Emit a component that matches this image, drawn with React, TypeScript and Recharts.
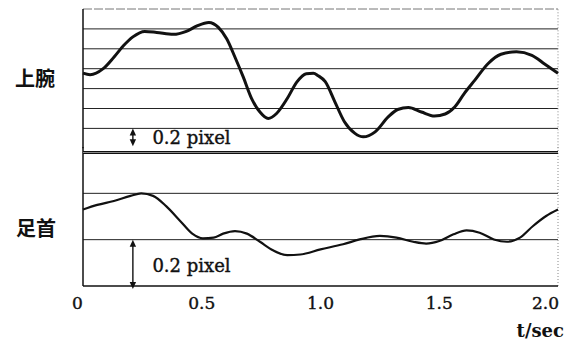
import React from "react";
import { LineChart, Line, XAxis, YAxis, ReferenceLine } from "recharts";

const armTime = [0, 0.03, 0.085, 0.13, 0.17, 0.21, 0.26, 0.31, 0.38, 0.435, 0.48, 0.53, 0.57, 0.605, 0.64, 0.675, 0.71, 0.745, 0.78, 0.815, 0.86, 0.9, 0.94, 0.97, 0.99, 1.02, 1.06, 1.1, 1.145, 1.18, 1.23, 1.285, 1.325, 1.37, 1.425, 1.48, 1.525, 1.565, 1.605, 1.65, 1.705, 1.76, 1.825, 1.89, 1.945, 2.0];
const armValue = [0.755, 0.74, 0.8, 0.915, 1.03, 1.12, 1.175, 1.165, 1.145, 1.175, 1.23, 1.265, 1.215, 1.1, 0.915, 0.715, 0.5, 0.365, 0.3, 0.35, 0.5, 0.665, 0.75, 0.755, 0.73, 0.67, 0.47, 0.27, 0.15, 0.115, 0.165, 0.315, 0.39, 0.41, 0.365, 0.325, 0.345, 0.415, 0.55, 0.685, 0.85, 0.945, 0.97, 0.935, 0.845, 0.755];

const ankleTime = [0, 0.06, 0.13, 0.2, 0.245, 0.295, 0.35, 0.41, 0.46, 0.505, 0.55, 0.59, 0.64, 0.69, 0.745, 0.8, 0.86, 0.915, 1.0, 1.095, 1.165, 1.25, 1.32, 1.39, 1.445, 1.5, 1.56, 1.615, 1.67, 1.73, 1.785, 1.84, 1.895, 1.95, 2.0];
const ankleValue = [0.33, 0.35, 0.367, 0.389, 0.4, 0.389, 0.345, 0.28, 0.226, 0.206, 0.209, 0.226, 0.237, 0.226, 0.191, 0.154, 0.133, 0.136, 0.158, 0.18, 0.201, 0.216, 0.209, 0.191, 0.183, 0.194, 0.223, 0.24, 0.23, 0.201, 0.191, 0.209, 0.259, 0.302, 0.33];

const timeTicks = [0, 0.5, 1, 1.5, 2];
const armGrid = [0.2, 0.4, 0.6, 0.8, 1.0, 1.2];
const ankleGrid = [0.2, 0.4];
const rowLabels = ["上腕", "足首"];
const scaleLabel = "0.2 pixel";
const axisTitle = "t/sec";
const scaleStep = 0.2;
const scaleTime = 0.21;

const armData = armTime.map((t, i) => ({ t, v: armValue[i] }));
const ankleData = ankleTime.map((t, i) => ({ t, v: ankleValue[i] }));

const serif = "'DejaVu Serif', 'Liberation Serif', serif";

const TimeTick = (props: any) => {
  const { x, y, payload } = props;
  const v = payload.value;
  const label = v === 0 ? "0" : v.toFixed(1);
  let anchor: any = "middle";
  let dx = 0;
  if (v === 0) dx = -5.5;
  if (v === 2) {
    anchor = "end";
    dx = 1;
  }
  return (
    <text x={x + dx} y={y + 15} textAnchor={anchor} fontFamily={serif} fontSize={17} fill="#111" stroke="#111" strokeWidth={0.4}>
      {label}
    </text>
  );
};

const makeArrow = (textDy: number, extendBottom: number) => (p: any) => {
  const x = p.x1;
  const top = Math.min(p.y1, p.y2);
  const bottom = Math.max(p.y1, p.y2) + extendBottom;
  const h = 7;
  const w = 3.2;
  return (
    <g>
      <line x1={x} y1={top + 3} x2={x} y2={bottom - 3} stroke="#111" strokeWidth={1.4} />
      <path d={`M${x},${top} L${x - w},${top + h} L${x + w},${top + h} Z`} fill="#111" />
      <path d={`M${x},${bottom} L${x - w},${bottom - h} L${x + w},${bottom - h} Z`} fill="#111" />
      <text x={x + 19.5} y={top + textDy} fontFamily={serif} fontSize={18} fill="#111" stroke="#111" strokeWidth={0.4}>
        {scaleLabel}
      </text>
    </g>
  );
};

export default function App() {
  return (
    <div style={{ position: "absolute", left: 0, top: 0, width: 567, height: 345, background: "#fff", overflow: "hidden" }}>
      <div style={{ position: "absolute", left: 0, top: 0 }}>
        <LineChart width={567} height={160} data={armData} margin={{ top: 9, right: 9, bottom: 11.7, left: 83 }}>
          <XAxis dataKey="t" type="number" domain={[0, 2]} hide />
          <YAxis type="number" domain={[0, 1.4]} hide />
          <ReferenceLine y={1.4} stroke="#777" strokeWidth={1} strokeDasharray="9 2" />
          {armGrid.map((g) => (
            <ReferenceLine key={g} y={g} stroke="#222" strokeWidth={1} />
          ))}
          <ReferenceLine x={0} stroke="#111" strokeWidth={1.5} />
          <ReferenceLine x={2} stroke="#888" strokeWidth={1} strokeDasharray="1 2" />
          <ReferenceLine
            segment={[{ x: scaleTime, y: 0 }, { x: scaleTime, y: scaleStep }]}
            shape={makeArrow(15.5, -2)}
          />
          <Line type="monotone" dataKey="v" stroke="#111" strokeWidth={3} dot={false} isAnimationActive={false} />
        </LineChart>
      </div>
      <div style={{ position: "absolute", left: 0, top: 0 }}>
        <LineChart width={567} height={345} data={ankleData} margin={{ top: 147, right: 9, bottom: 29, left: 83 }}>
          <XAxis
            dataKey="t"
            type="number"
            domain={[0, 2]}
            ticks={timeTicks}
            interval={0}
            tickLine={false}
            axisLine={{ stroke: "#111", strokeWidth: 1.5 }}
            tick={<TimeTick />}
            height={30}
          />
          <YAxis type="number" domain={[0, 0.6]} hide />
          {ankleGrid.map((g) => (
            <ReferenceLine key={g} y={g} stroke="#222" strokeWidth={1} />
          ))}
          <ReferenceLine x={0} stroke="#111" strokeWidth={1.5} />
          <ReferenceLine x={2} stroke="#888" strokeWidth={1} strokeDasharray="1 2" />
          <ReferenceLine
            segment={[{ x: scaleTime, y: 0 }, { x: scaleTime, y: scaleStep }]}
            shape={makeArrow(32.5, 3)}
          />
          <Line type="monotone" dataKey="v" stroke="#111" strokeWidth={2.2} dot={false} isAnimationActive={false} />
        </LineChart>
      </div>
      <div
        style={{
          position: "absolute",
          left: 83,
          top: 150.5,
          width: 475,
          height: 1,
          background: "#888",
          borderTop: "1px solid #111",
          borderBottom: "1px solid #111",
        }}
      />
      <div
        style={{
          position: "absolute",
          left: 15,
          top: 68,
          fontFamily: "'Noto Sans CJK JP', sans-serif",
          fontWeight: 700,
          fontSize: 20,
          lineHeight: "20px",
          color: "#111",
          whiteSpace: "nowrap",
        }}
      >
        {rowLabels[0]}
      </div>
      <div
        style={{
          position: "absolute",
          left: 16,
          top: 218,
          fontFamily: "'Noto Sans CJK JP', sans-serif",
          fontWeight: 700,
          fontSize: 20,
          lineHeight: "20px",
          color: "#111",
          whiteSpace: "nowrap",
        }}
      >
        {rowLabels[1]}
      </div>
      <div
        style={{
          position: "absolute",
          right: 3,
          top: 321,
          fontFamily: serif,
          fontWeight: 700,
          fontSize: 18,
          lineHeight: "20px",
          color: "#111",
          whiteSpace: "nowrap",
        }}
      >
        {axisTitle}
      </div>
    </div>
  );
}
